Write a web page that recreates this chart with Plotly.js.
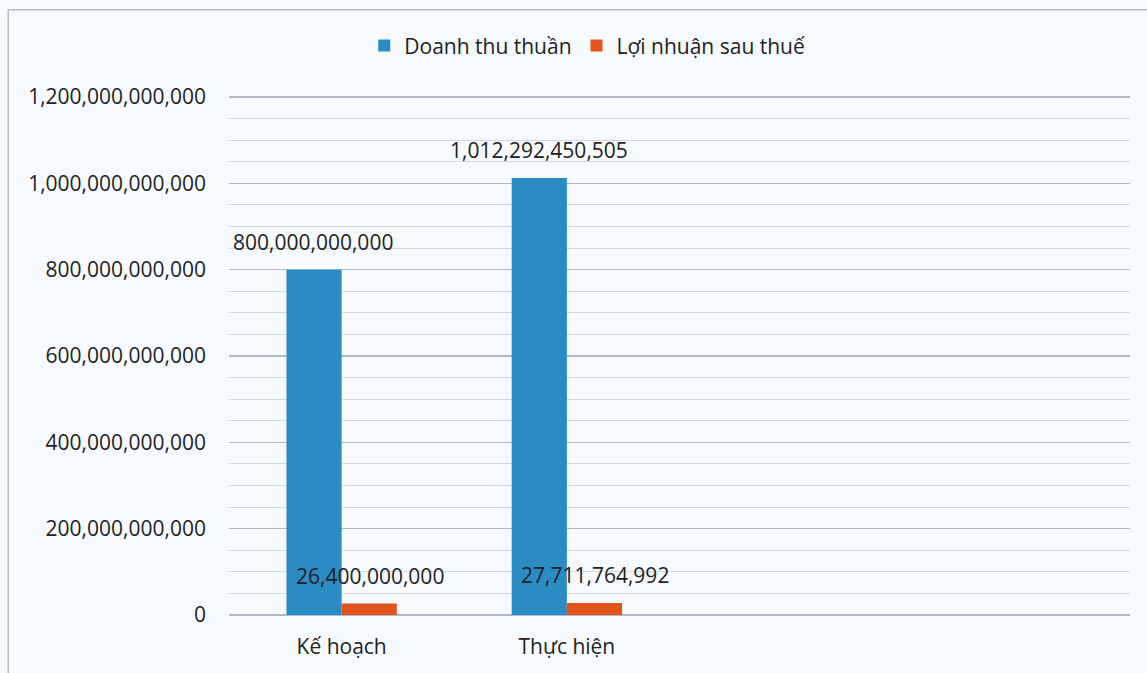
<!DOCTYPE html>
<html>
<head>
<meta charset="utf-8">
<script src="https://cdn.plot.ly/plotly-3.0.1.min.js"></script>
<style>html,body{margin:0;padding:0;background:#f6fafd;}#chart{width:1147px;height:673px;}</style>
</head>
<body>
<div id="chart"></div>
<script>
const categories = ["Kế hoạch", "Thực hiện"];
const seriesNames = ["Doanh thu thuần", "Lợi nhuận sau thuế"];
const doanhThu = [800000000000, 1012292450505];
const loiNhuan = [26400000000, 27711764992];
const yTickVals = [0, 200000000000, 400000000000, 600000000000, 800000000000, 1000000000000, 1200000000000];
const yTickText = ["0", "200,000,000,000", "400,000,000,000", "600,000,000,000", "800,000,000,000", "1,000,000,000,000", "1,200,000,000,000"];

const fmt = v => Math.round(v).toLocaleString('en-US');
const FONT = "'Open Sans', 'Noto Sans', sans-serif";
const colors = ["#2b8cc4", "#e2541c"];

const traces = [
  {type: 'bar', name: seriesNames[0], x: categories, y: doanhThu, marker: {color: colors[0]}, offsetgroup: 'a', hoverinfo: 'x+y'},
  {type: 'bar', name: seriesNames[1], x: categories, y: loiNhuan, marker: {color: colors[1]}, offsetgroup: 'b', hoverinfo: 'x+y'}
];

// Data labels placed above each bar (Excel style), via the axis scales
const annotations = [];
const offs = [-0.125, 0.125];
[doanhThu, loiNhuan].forEach((arr, s) => {
  arr.forEach((v, i) => {
    annotations.push({
      x: i + offs[s], y: v, xref: 'x', yref: 'y', text: fmt(v),
      showarrow: false, yanchor: 'bottom', yshift: 12,
      font: {family: FONT, size: 21, color: '#222'}
    });
  });
});

const layout = {
  width: 1147, height: 673,
  paper_bgcolor: '#f6fafd', plot_bgcolor: '#f6fafd',
  margin: {l: 229, r: 17, t: 96, b: 58},
  barmode: 'group', bargap: 0.51, bargroupgap: 0,
  font: {family: FONT, size: 21, color: '#222'},
  showlegend: true,
  legend: {orientation: 'h', xref: 'container', yref: 'container', x: 0.512, xanchor: 'center', y: 0.932, yanchor: 'middle',
           font: {family: FONT, size: 21, color: '#222'}, itemwidth: 30, bgcolor: 'rgba(0,0,0,0)', traceorder: 'normal'},
  xaxis: {type: 'category', range: [-0.5, 3.5], showgrid: false, zeroline: false, showline: false,
          ticks: '', tickfont: {family: FONT, size: 21, color: '#222'}, ticklabelstandoff: 17, fixedrange: true},
  yaxis: {range: [0, 1202500000000], tickvals: yTickVals, ticktext: yTickText, showgrid: true, gridcolor: '#b2b7c4', gridwidth: 1.3,
          minor: {dtick: 50000000000, showgrid: true, gridcolor: '#d2d7e0', gridwidth: 1},
          zeroline: true, zerolinecolor: '#b2b7c4', zerolinewidth: 1.5, showline: false, ticks: '', ticklabelstandoff: 22,
          tickfont: {family: FONT, size: 21, color: '#222'}, fixedrange: true},
  annotations: annotations,
  shapes: [
    {type: 'line', xref: 'paper', yref: 'paper', x0: -0.245, x1: 1.02, y0: 1.166, y1: 1.166, line: {color: '#b8bcc4', width: 1.5}},
    {type: 'line', xref: 'paper', yref: 'paper', x0: -0.245, x1: -0.245, y0: -0.2, y1: 1.166, line: {color: '#b8bcc4', width: 1.5}}
  ]
};

Plotly.newPlot('chart', traces, layout, {displayModeBar: false, staticPlot: true});
</script>
</body>
</html>
